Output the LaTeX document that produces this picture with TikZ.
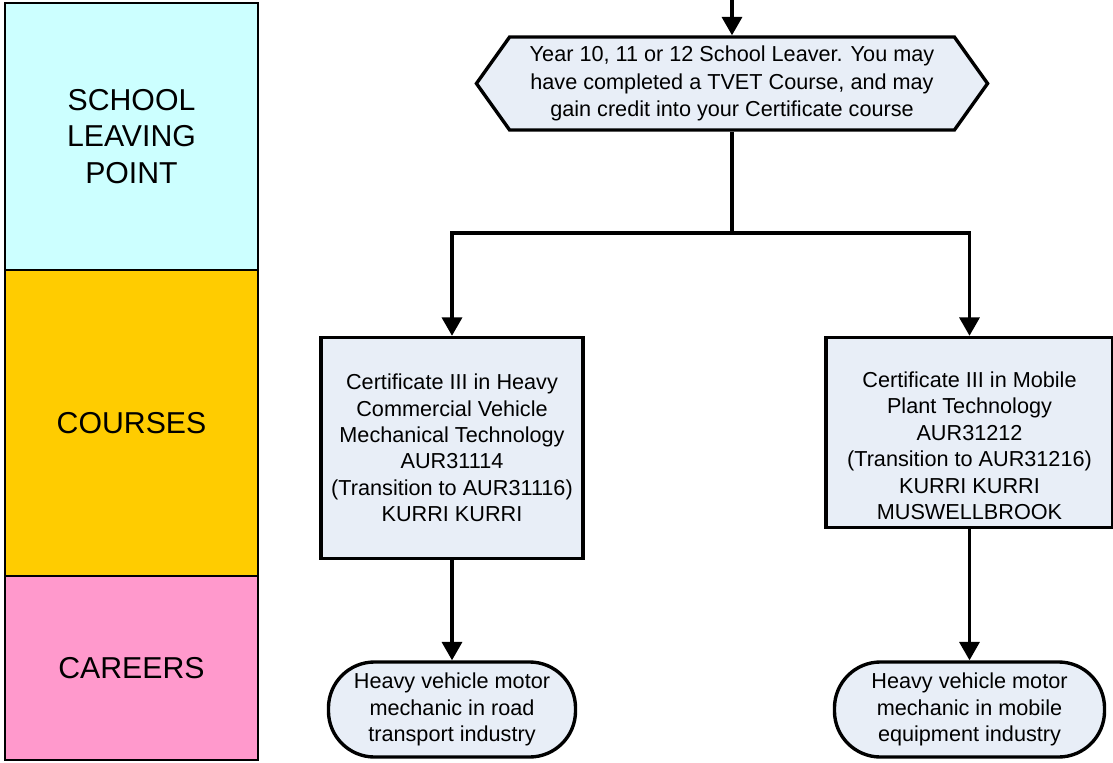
\documentclass[tikz,border=0pt]{standalone}
\usepackage{fontspec}
\setmainfont{Liberation Sans}
\usepackage{xcolor}
\usepackage{tikz}
\usetikzlibrary{arrows.meta,positioning,calc,shapes.symbols}
\definecolor{lanecyan}{RGB}{204,255,255}
\definecolor{laneorange}{RGB}{255,204,0}
\definecolor{lanepink}{RGB}{255,153,204}
\definecolor{boxblue}{RGB}{232,238,247}

\begin{document}
\begin{tikzpicture}[
  x=0.025cm, y=-0.025cm,
  lane/.style={rectangle, draw, line width=1.6pt, minimum width=6.325cm, inner sep=0pt, align=center, font=\fontsize{21.5}{26}\selectfont},
  course/.style={rectangle, draw, line width=2.4pt, fill=boxblue, inner sep=2pt, align=center, font=\fontsize{15.4}{18.8}\selectfont},
  career/.style={rectangle, draw, line width=2.4pt, fill=boxblue, rounded corners=1.15cm, minimum height=2.375cm, inner sep=2pt, align=center, font=\fontsize{15.4}{18.8}\selectfont},
  leaver/.style={signal, signal to=west and east, signal pointer angle=109, draw, line width=2.4pt, fill=boxblue, minimum width=12.775cm, minimum height=2.325cm, inner sep=2pt, align=center, font=\fontsize{15.4}{19.4}\selectfont},
  link/.style={line width=2.4pt},
  flow/.style={line width=2.4pt, -{Triangle[length=0.46cm, width=0.5cm]}}
]
  \useasboundingbox (0,0) rectangle (1113,763);

  % swim lanes
  \node[lane, fill=lanecyan, minimum height=6.675cm] (school) at (131.5,136.5) {SCHOOL\\LEAVING\\POINT};
  \node[lane, fill=laneorange, minimum height=7.65cm] (courses) at (131.5,423) {COURSES};
  \node[lane, fill=lanepink, minimum height=4.6cm] (careers) at (131.5,668) {CAREERS};

  % flow chart
  \node[leaver] (leaver) at (732,83.5) {Year 10, 11 or 12 School Leaver. You may\\have completed a TVET Course, and may\\gain credit into your Certificate course};
  \node[course, minimum width=6.55cm, minimum height=5.525cm] (hcv) at (452,448)
    {Certificate III in Heavy\\Commercial Vehicle\\Mechanical Technology\\AUR31114\\(Transition to AUR31116)\\KURRI KURRI};
  \node[course, minimum width=7.175cm, minimum height=4.75cm] (mpt) at (969.5,432.5)
    {\rule{0pt}{1.05cm}Certificate III in Mobile\\Plant Technology\\AUR31212\\(Transition to AUR31216)\\KURRI KURRI\\MUSWELLBROOK};
  \node[career, minimum width=6.175cm] (road) at (452,709.5) {Heavy vehicle motor\\mechanic in road\\transport industry};
  \node[career, minimum width=6.75cm] (mobile) at (969.5,709.5) {Heavy vehicle motor\\mechanic in mobile\\equipment industry};

  \coordinate (entry) at (732,0);
  \coordinate (split) at (732,233);

  \draw[flow] (entry) -- (leaver.north);
  \draw[link] (leaver.south) -- (split);
  \draw[flow] (split) -| (hcv.north);
  \draw[flow] (split) -| (mpt.north);
  \draw[flow] (hcv.south) -- (road.north);
  \draw[flow] (mpt.south) -- (mobile.north);
\end{tikzpicture}
\end{document}
